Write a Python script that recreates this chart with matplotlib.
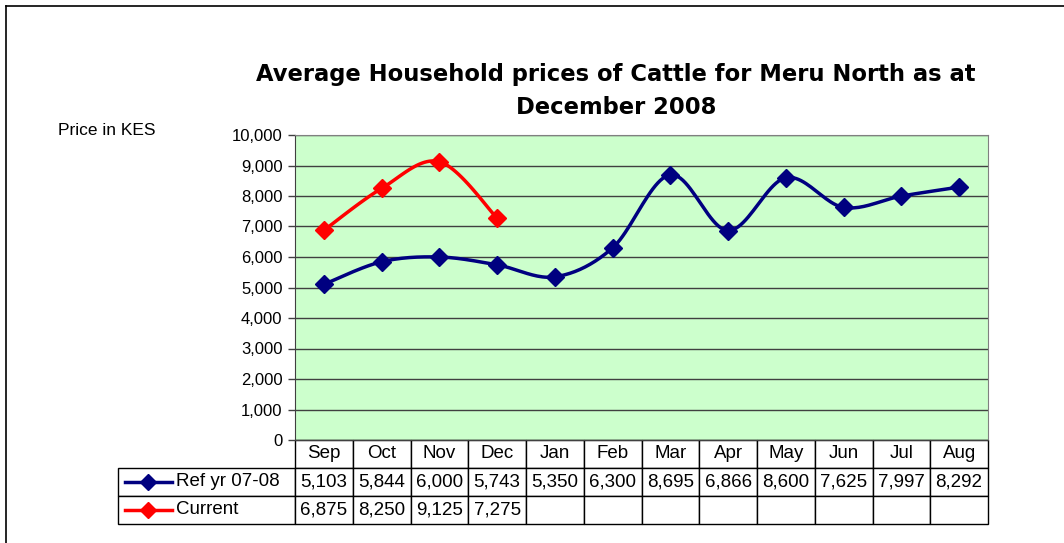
import numpy as np
import matplotlib
import matplotlib.pyplot as plt
from matplotlib.lines import Line2D

matplotlib.rcParams['font.family'] = ['Liberation Sans', 'DejaVu Sans']

# Data
months = ['Sep', 'Oct', 'Nov', 'Dec', 'Jan', 'Feb', 'Mar', 'Apr', 'May', 'Jun', 'Jul', 'Aug']
ref_values = [5103, 5844, 6000, 5743, 5350, 6300, 8695, 6866, 8600, 7625, 7997, 8292]
current_values = [6875, 8250, 9125, 7275]
series_names = ['Ref yr 07-08', 'Current']
series_colors = ['#000080', '#FF0000']


def smooth(xs, ys, n=24):
    # Excel-like smoothed line (bezier with 1/6 neighbour tangents)
    xs = np.asarray(xs, float)
    ys = np.asarray(ys, float)
    ox, oy = [], []
    for i in range(len(xs) - 1):
        p0 = np.array([xs[max(i - 1, 0)], ys[max(i - 1, 0)]])
        p1 = np.array([xs[i], ys[i]])
        p2 = np.array([xs[i + 1], ys[i + 1]])
        p3 = np.array([xs[min(i + 2, len(xs) - 1)], ys[min(i + 2, len(xs) - 1)]])
        c1 = p1 + (p2 - p0) / 6
        c2 = p2 - (p3 - p1) / 6
        t = np.linspace(0, 1, n)[:, None]
        b = ((1 - t) ** 3) * p1 + 3 * ((1 - t) ** 2) * t * c1 + 3 * (1 - t) * t ** 2 * c2 + t ** 3 * p2
        ox.extend(b[:, 0])
        oy.extend(b[:, 1])
    return ox, oy


W, H = 1064, 543
fig = plt.figure(figsize=(W / 100, H / 100), dpi=100)

# outer frame
fig.add_artist(Line2D([6 / W, 6 / W], [0, 1 - 6 / H], color='black', lw=1.2))
fig.add_artist(Line2D([6 / W, 1], [1 - 6 / H, 1 - 6 / H], color='black', lw=1.2))

left, right, top, bottom = 295, 988, 135, 440
ax = fig.add_axes([left / W, 1 - bottom / H, (right - left) / W, (bottom - top) / H])
ax.set_facecolor('#CCFFCC')

x = np.arange(len(months))
for vals, name, col in [(ref_values, series_names[0], series_colors[0]),
                        (current_values, series_names[1], series_colors[1])]:
    xi = x[:len(vals)]
    sx, sy = smooth(xi, vals)
    ax.plot(sx, sy, color=col, lw=2.5, zorder=3)
    ax.plot(xi, vals, linestyle='none', marker='D', markersize=9, color=col, zorder=4)

ax.set_xlim(-0.5, len(months) - 0.5)
ax.set_ylim(0, 10000)
ax.set_yticks(np.arange(0, 10001, 1000))
ax.set_yticklabels([f'{v:,}' for v in range(0, 10001, 1000)], fontsize=12)
ax.set_xticks([])
ax.yaxis.grid(True, color='#404040', lw=1)
ax.set_axisbelow(True)
ax.tick_params(axis='y', direction='out', length=5, width=1, color='#404040', pad=4)
for s in ['top', 'right']:
    ax.spines[s].set_color('#808080')
ax.spines['left'].set_color('#404040')
ax.spines['bottom'].set_color('#404040')

# data table below the plot
axw = right - left
colw = axw / len(months)
label_w = left - 118
row_h = 28
cell_text = [[series_names[0]] + [f'{v:,}' for v in ref_values],
             [series_names[1]] + [f'{v:,}' for v in current_values]
             + [''] * (len(months) - len(current_values))]
tbl = ax.table(cellText=cell_text, colLabels=[''] + months,
               colWidths=[label_w / colw] + [1] * len(months),
               cellLoc='center',
               bbox=[-label_w / axw, -3 * row_h / (bottom - top), 1 + label_w / axw, 3 * row_h / (bottom - top)])
tbl.auto_set_font_size(False)
tbl.set_fontsize(13.5)
for (r, c), cell in tbl.get_celld().items():
    cell.set_edgecolor('black')
    cell.set_linewidth(1)
    cell.PAD = 0.02
    if c == 0:
        cell._loc = 'left'
        cell.get_text().set_ha('left')
        cell.PAD = 58 / label_w
    if r == 0 and c == 0:
        cell.visible_edges = ''

# legend keys inside the row label cells
for i, col in enumerate(series_colors):
    yc = 1 - (bottom + row_h * (i + 1) + row_h / 2) / H
    fig.add_artist(Line2D([125 / W, 172 / W], [yc, yc], color=col, lw=2.5))
    fig.add_artist(Line2D([148 / W], [yc], marker='D', markersize=8, color=col, linestyle='none'))

fig.text(616 / W, 1 - 75 / H, 'Average Household prices of Cattle for Meru North as at',
         ha='center', va='center', fontsize=16.3, fontweight='bold', family='DejaVu Sans')
fig.text(616 / W, 1 - 108 / H, 'December 2008',
         ha='center', va='center', fontsize=16.3, fontweight='bold', family='DejaVu Sans')
fig.text(58 / W, 1 - 130 / H, 'Price in KES', ha='left', va='center', fontsize=12.5)

fig.savefig('out.png', dpi=100)
